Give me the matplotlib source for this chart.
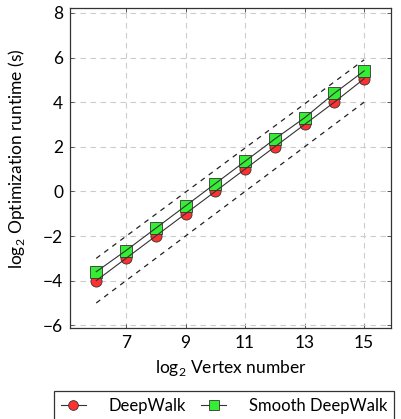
import matplotlib
matplotlib.use("Agg")
import matplotlib.pyplot as plt

# log2 vertex number
x = [6, 7, 8, 9, 10, 11, 12, 13, 14, 15]
deepwalk = [-4.0, -3.0, -2.0, -1.0, 0.0, 1.0, 2.0, 3.0, 4.0, 5.05]
smooth = [-3.6, -2.65, -1.65, -0.65, 0.35, 1.35, 2.35, 3.3, 4.4, 5.4]
# dashed reference lines
ref_x = [6, 15]
ref_upper = [-3, 5.9]
ref_lower = [-5, 4]
xticks = [7, 9, 11, 13, 15]
yticks = [-6, -4, -2, 0, 2, 4, 6, 8]

plt.rcParams["font.family"] = ["Lato", "DejaVu Sans"]
plt.rcParams["mathtext.fontset"] = "custom"
plt.rcParams["mathtext.rm"] = "Lato"

fs = 12.5
fig = plt.figure(figsize=(4.01, 4.19), dpi=100)
ax = fig.add_axes([0.1746, 0.2172, 0.975 - 0.1746, 0.981 - 0.2172])

edge = "#333333"
ax.plot(ref_x, ref_upper, ls=(0, (4, 4)), color="#222222", lw=0.9)
ax.plot(ref_x, ref_lower, ls=(0, (4, 4)), color="#222222", lw=0.9)

ax.plot(x, deepwalk, ls="none", marker="o", ms=8, mfc="#ff3030", mec=edge,
        mew=0.6, zorder=3)
ax.plot(x, smooth, ls="none", marker="s", ms=8, mfc="#33ee33", mec=edge,
        mew=0.6, zorder=3)
ax.plot(x, deepwalk, color="#333333", lw=0.8, zorder=4)
ax.plot(x, smooth, color="#333333", lw=0.8, zorder=4)

ax.set_xlim(5.12, 15.9)
ax.set_ylim(-6.12, 8.22)
ax.set_xticks(xticks)
ax.set_yticks(yticks)
ax.set_yticklabels(["\u2212%d" % -v if v < 0 else str(v) for v in yticks])
ax.grid(True, ls=(0, (5, 4)), color="#cccccc", lw=0.8)
ax.set_axisbelow(True)
ax.tick_params(direction="in", top=True, right=True, length=3, width=0.7,
               color="#555555", labelsize=fs, pad=5)
for s in ax.spines.values():
    s.set_color("#333333")
    s.set_linewidth(0.9)

ax.set_xlabel("log$_2$ Vertex number", fontsize=fs, labelpad=5)
ax.set_ylabel("log$_2$ Optimization runtime (s)", fontsize=fs)
ax.yaxis.set_label_coords(-0.135, 0.528)

h1 = plt.Line2D([], [], color="#333333", lw=0.8, marker="o", ms=7,
                mfc="#ff3030", mec=edge, mew=0.6)
h2 = plt.Line2D([], [], color="#333333", lw=0.8, marker="s", ms=7,
                mfc="#33ee33", mec=edge, mew=0.6)
lfs = 12
leg = fig.legend([h1, h2], ["DeepWalk", "Smooth DeepWalk"], ncol=2,
                 loc="center left", bbox_to_anchor=(54 / 401, 1 - 406 / 419),
                 borderaxespad=0, fontsize=lfs, frameon=True, fancybox=False,
                 handlelength=1.5, handletextpad=1.35, columnspacing=0.95,
                 borderpad=0.4)
leg.get_frame().set_edgecolor("black")
leg.get_frame().set_linewidth(0.9)

fig.savefig("out.png", dpi=100)
